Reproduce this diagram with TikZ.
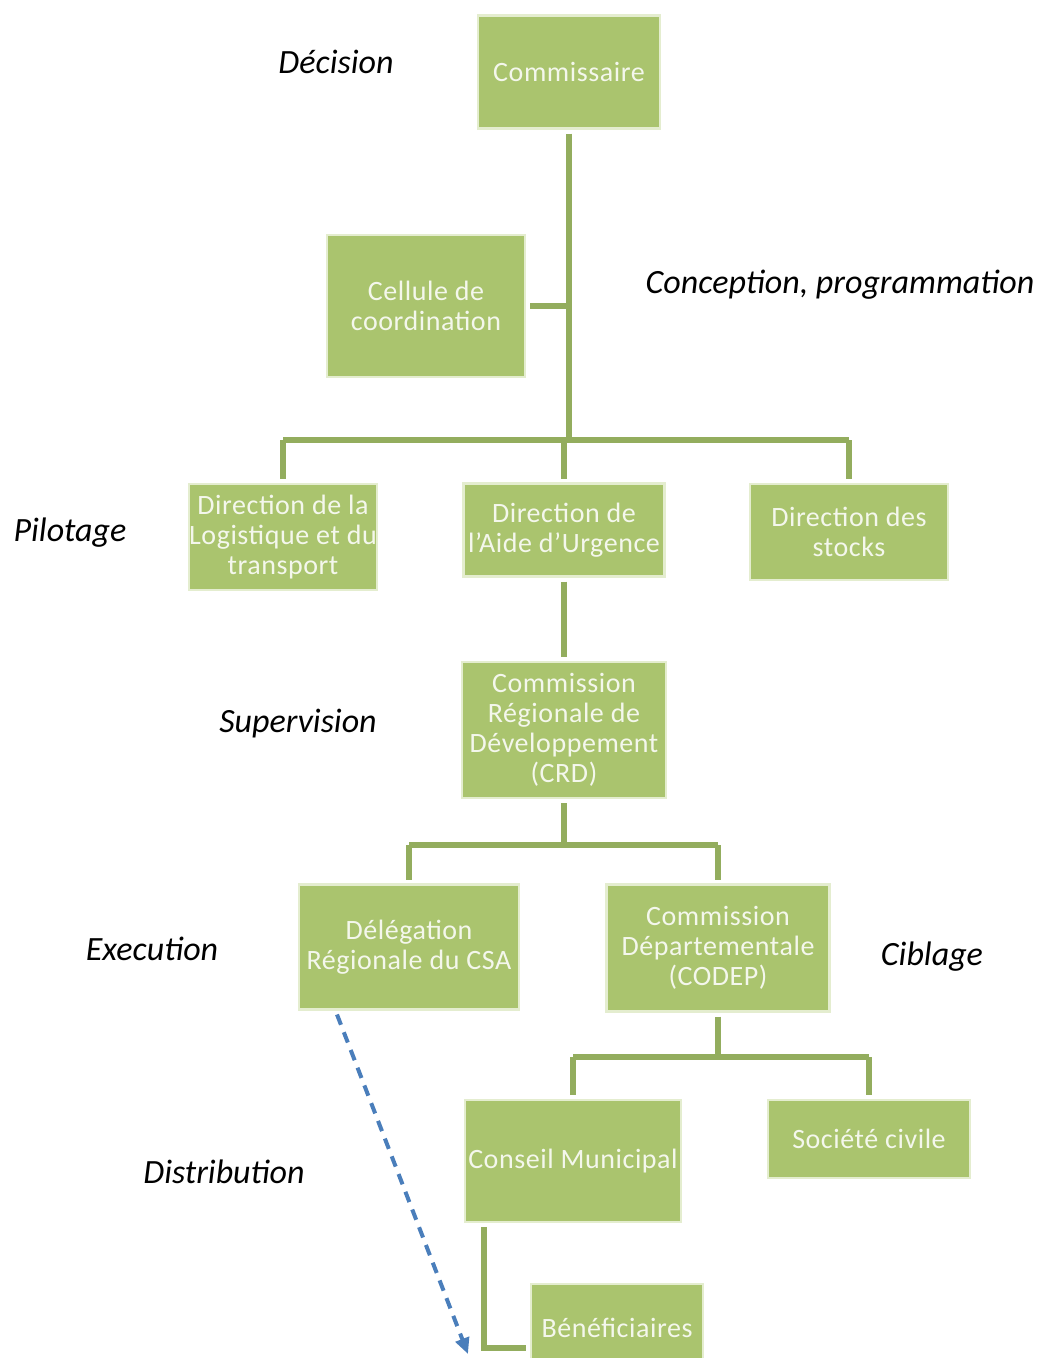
\documentclass[tikz,border=0pt]{standalone}
\usepackage{fontspec}
\setmainfont{Carlito}
\usetikzlibrary{arrows.meta,calc}
\definecolor{boxfill}{HTML}{AAC46E}
\definecolor{boxedge}{HTML}{E4EDCF}
\definecolor{linecol}{HTML}{93AD5E}
\definecolor{txtcol}{HTML}{F4F7EC}
\definecolor{arrblue}{HTML}{4A7EBB}
\tikzset{
  box/.style={fill=boxfill, draw=boxedge, line width=2.5pt, text=txtcol, align=center,
    font=\fontsize{28}{30}\selectfont\addfontfeature{LetterSpace=2}, inner sep=0pt, outer sep=5pt},
  lbl/.style={font=\fontsize{34}{36}\selectfont\itshape, text=black},
  conn/.style={draw=linecol, line width=6pt},
}
\begin{document}
\begin{tikzpicture}[x=1pt,y=-1pt]
\useasboundingbox (0,0) rectangle (1053,1358);
% boxes
\node[box, minimum width=182, minimum height=113] (com) at (569,72) {Commissaire};
\node[box, minimum width=198, minimum height=142] (cel) at (426,306) {Cellule de\\coordination};
\node[box, minimum width=188, minimum height=106] (dl) at (283,537) {Direction de la\\Logistique et du\\transport};
\node[box, minimum width=201, minimum height=93] (da) at (564,530) {Direction de\\l'Aide d'Urgence};
\node[box, minimum width=198, minimum height=96] (ds) at (849,532) {Direction des\\stocks};
\node[box, minimum width=204, minimum height=136] (crd) at (564,730) {Commission\\Régionale de\\Développement\\(CRD)};
\node[box, minimum width=220, minimum height=125] (del) at (409,947) {Délégation\\Régionale du CSA};
\node[box, minimum width=223, minimum height=127] (codep) at (718,948) {Commission\\Départementale\\(CODEP)};
\node[box, minimum width=216, minimum height=122] (cm) at (573,1161) {Conseil Municipal};
\node[box, minimum width=202, minimum height=78] (sc) at (869,1139) {Société civile};
\node[box, minimum width=172, minimum height=88] (ben) at (617,1328) {Bénéficiaires};
% labels
\node[lbl] (l1) at (336,62) {Décision};
\node[lbl] (l2) at (840,285) {Conception, programmation};
\node[lbl] (l3) at (70,533) {Pilotage};
\node[lbl] (l4) at (298,724) {Supervision};
\node[lbl] (l5) at (152,949) {Execution};
\node[lbl] (l6) at (932,957) {Ciblage};
\node[lbl] (l7) at (224,1172) {Distribution};
% connectors
\coordinate (j1) at (569,440);
\draw[conn] (com.south) -- (j1);
\draw[conn] (cel.east) -- (cel.east -| com.south);
\draw[conn] (dl.north |- j1) -- (ds.north |- j1);
\draw[conn] (dl.north |- j1) -- (dl.north);
\draw[conn] (da.north |- j1) -- (da.north);
\draw[conn] (ds.north |- j1) -- (ds.north);
\draw[conn] (da.south) -- (crd.north);
\coordinate (j2) at (564,845);
\draw[conn] (crd.south) -- (j2);
\draw[conn] (del.north |- j2) -- (codep.north |- j2);
\draw[conn] (del.north |- j2) -- (del.north);
\draw[conn] (codep.north |- j2) -- (codep.north);
\coordinate (j3) at (718,1057);
\draw[conn] (codep.south) -- (j3);
\draw[conn] (cm.north |- j3) -- (sc.north |- j3);
\draw[conn] (cm.north |- j3) -- (cm.north);
\draw[conn] (sc.north |- j3) -- (sc.north);
\coordinate (k) at (484,1348);
\draw[conn] (k |- cm.south) -- (k) -- (k -| ben.west);
\coordinate (arrend) at (468,1354);
\draw[draw=arrblue, line width=4pt, dash pattern=on 11pt off 8pt, -{Triangle[length=16pt,width=14pt]}]
  ($(del.south west)+(43,0)$) -- (arrend);
\end{tikzpicture}
\end{document}
